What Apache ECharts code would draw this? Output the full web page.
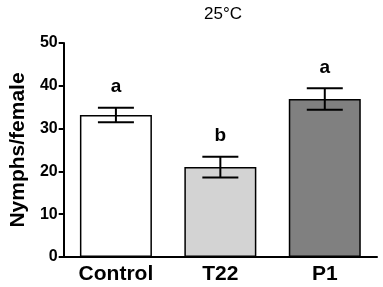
<!DOCTYPE html>
<html><head><meta charset="utf-8">
<script src="https://cdn.jsdelivr.net/npm/echarts@6/dist/echarts.min.js"></script>
<style>html,body{margin:0;padding:0;background:#fff}#c{width:383px;height:287px}</style>
</head><body><div id="c"></div>
<script>
var categories = ['Control', 'T22', 'P1'];
var means = [33.2, 21.0, 36.9];
var errors = [1.7, 2.4, 2.5];
var letters = ['a', 'b', 'a'];
var barColors = ['#ffffff', '#d3d3d3', '#808080'];
var yTicks = [0, 10, 20, 30, 40, 50];

var chart = echarts.init(document.getElementById('c'));
var FONT = '"Liberation Sans", Arial, sans-serif';
chart.setOption({
  animation: false,
  title: { text: '25°C', left: 218, top: 1, textAlign: 'center',
    textStyle: { fontFamily: FONT, fontSize: 17, fontWeight: 'normal', color: '#000' } },
  grid: { left: 55, right: 6, top: 43, bottom: 30, containLabel: false },
  xAxis: { type: 'category', data: categories,
    axisLine: { lineStyle: { color: '#000', width: 2 } },
    axisTick: { alignWithLabel: true, length: 5, lineStyle: { color: '#000', width: 2 } },
    axisLabel: { fontFamily: FONT, fontSize: 21, fontWeight: 'bold', color: '#000', margin: 7 } },
  yAxis: { type: 'value', min: yTicks[0], max: yTicks[yTicks.length-1], interval: 10,
    name: 'Nymphs/female', nameLocation: 'middle', nameGap: 32,
    nameTextStyle: { fontFamily: FONT, fontSize: 21, fontWeight: 'bold', color: '#000' },
    splitLine: { show: false },
    axisLine: { show: true, lineStyle: { color: '#000', width: 2 } },
    axisTick: { show: true, length: 5, lineStyle: { color: '#000', width: 2 } },
    axisLabel: { fontFamily: FONT, fontSize: 16, fontWeight: 'bold', color: '#000', margin: 6 } },
  series: [
    { type: 'bar', barWidth: 72,
      data: means.map(function (v, i) { return { value: v, itemStyle: { color: barColors[i] } }; }),
      itemStyle: { borderColor: '#000', borderWidth: 1.5 } },
    { type: 'custom', z: 10,
      data: means.map(function (v, i) { return [i, v - errors[i], v + errors[i], letters[i]]; }),
      renderItem: function (params, api) {
        var x = api.coord([api.value(0), 0])[0];
        var lo = api.coord([api.value(0), api.value(1)])[1];
        var hi = api.coord([api.value(0), api.value(2)])[1];
        var hw = 18;
        var st = { stroke: '#000', lineWidth: 2 };
        return { type: 'group', children: [
          { type: 'line', shape: { x1: x, y1: lo, x2: x, y2: hi }, style: st },
          { type: 'line', shape: { x1: x - hw, y1: hi, x2: x + hw, y2: hi }, style: st },
          { type: 'line', shape: { x1: x - hw, y1: lo, x2: x + hw, y2: lo }, style: st },
          { type: 'text', style: { text: letters[params.dataIndex], x: x, y: hi - 21,
              align: 'center', verticalAlign: 'middle',
              font: 'bold 19px "Liberation Sans", Arial, sans-serif', fill: '#000' } }
        ] };
      } }
  ]
});
</script></body></html>
